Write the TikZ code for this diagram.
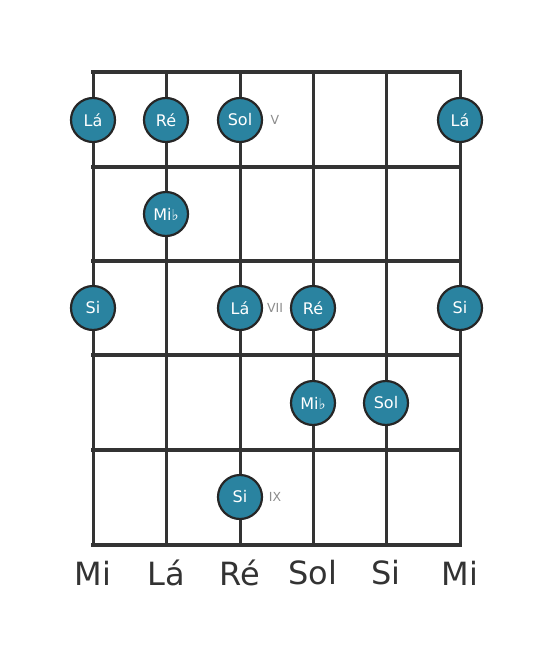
\documentclass[tikz,border=0pt]{standalone}
\usepackage{fontspec}
\setmainfont{DejaVu Sans}
\begin{document}
\begin{tikzpicture}[x=1pt,y=-1pt,
  fret/.style={draw=black!80, line width=4.8pt},
  strg/.style={draw=black!80, line width=3pt},
  note/.style={circle, draw=black!85, line width=2.2pt, fill=notecol, minimum size=44pt, inner sep=0pt, text=white, font=\fontsize{16}{16}\selectfont},
  posnum/.style={text=black!45, font=\fontsize{12.5}{13}\selectfont},
  sname/.style={text=black!80, font=\fontsize{32}{32}\selectfont}]
\definecolor{notecol}{HTML}{2A83A0}
\useasboundingbox (0,0) rectangle (553,656);
\newcommand{\fl}{{\fontsize{15}{15}\selectfont ♭}}
% strings
\foreach \x/\n in {93/1,166/2,240/3,313/4,386/5,460/6}{
  \coordinate (t\n) at (\x,72);
  \coordinate (b\n) at (\x,545);
  \draw[strg] (t\n) -- (b\n);
}
% frets
\foreach \y/\n in {72/0,167/1,261/2,355/3,450/4,545/5}{
  \coordinate (fl\n) at (93,\y);
  \coordinate (fr\n) at (460,\y);
  \draw[fret, line cap=rect] (fl\n) -- (fr\n);
}
% notes
\node[note] (n1) at (93,120) {Lá};
\node[note] (n2) at (166,120) {Ré};
\node[note] (n3) at (240,120) {Sol};
\node[note] (n4) at (460,120) {Lá};
\node[note] (n5) at (166,214) {Mi\fl};
\node[note] (n6) at (93,308) {Si};
\node[note] (n7) at (240,308) {Lá};
\node[note] (n8) at (313,308) {Ré};
\node[note] (n9) at (460,308) {Si};
\node[note] (n10) at (313,403) {Mi\fl};
\node[note] (n11) at (386,403) {Sol};
\node[note] (n12) at (240,497) {Si};
% position numerals
\node[posnum] (p5) at (275,120) {V};
\node[posnum] (p7) at (275,308) {VII};
\node[posnum] (p9) at (275,497) {IX};
% string names
\node[sname] (s1) at (93,573) {Mi};
\node[sname] (s2) at (166,573) {Lá};
\node[sname] (s3) at (240,573) {Ré};
\node[sname] (s4) at (313,573) {Sol};
\node[sname] (s5) at (386,573) {Si};
\node[sname] (s6) at (460,573) {Mi};
\end{tikzpicture}
\end{document}
